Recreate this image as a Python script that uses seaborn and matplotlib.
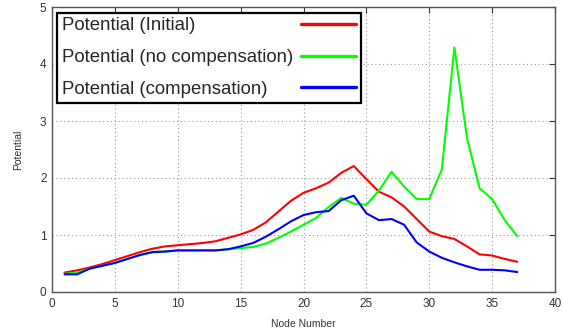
import numpy as np
import pandas as pd
import seaborn as sns
import matplotlib
matplotlib.use("Agg")
import matplotlib.pyplot as plt

nodes = list(range(1, 38))

initial = [0.34, 0.38, 0.43, 0.49, 0.56, 0.63, 0.70, 0.76, 0.80, 0.82,
           0.84, 0.86, 0.89, 0.95, 1.01, 1.09, 1.22, 1.41, 1.60, 1.74,
           1.82, 1.92, 2.09, 2.21, 1.98, 1.76, 1.66, 1.50, 1.28, 1.06,
           0.98, 0.93, 0.80, 0.66, 0.64, 0.58, 0.53]

no_comp = [0.32, 0.34, 0.41, 0.46, 0.51, 0.58, 0.65, 0.70, 0.71, 0.73,
           0.73, 0.73, 0.73, 0.75, 0.77, 0.79, 0.85, 0.95, 1.06, 1.18,
           1.30, 1.49, 1.65, 1.55, 1.53, 1.78, 2.11, 1.85, 1.63, 1.63,
           2.15, 4.29, 2.70, 1.82, 1.63, 1.26, 0.98]

comp = [0.31, 0.31, 0.41, 0.46, 0.51, 0.58, 0.65, 0.70, 0.71, 0.73,
        0.73, 0.73, 0.73, 0.75, 0.80, 0.86, 0.97, 1.10, 1.24, 1.35,
        1.40, 1.42, 1.61, 1.69, 1.38, 1.26, 1.28, 1.18, 0.87, 0.71,
        0.60, 0.52, 0.45, 0.39, 0.39, 0.38, 0.35]

series_names = ["Potential (Initial)", "Potential (no compensation)",
                "Potential (compensation)"]
series_colors = ["#ff0000", "#00ff00", "#0000ff"]

x_ticks = [0, 5, 10, 15, 20, 25, 30, 35, 40]
y_ticks = [0, 1, 2, 3, 4, 5]

df = pd.DataFrame({
    "Node Number": nodes * 3,
    "Potential": initial + no_comp + comp,
    "series": [s for s in series_names for _ in nodes],
})

sns.set_theme(style="white")
plt.rcParams["font.family"] = ["Liberation Sans", "DejaVu Sans"]

W, H = 563, 333
fig = plt.figure(figsize=(W / 100, H / 100), dpi=100)
ax = fig.add_axes([52 / W, 1 - 292 / H, (555 - 52) / W, (292 - 7) / H])

sns.lineplot(data=df, x="Node Number", y="Potential", hue="series",
             hue_order=series_names, palette=series_colors,
             linewidth=1.5, ax=ax, legend=True)

ax.set_xlim(0, 40)
ax.set_ylim(0, 5)
ax.set_xticks(x_ticks)
ax.set_yticks(y_ticks)
ax.grid(True, color="#9a9a9a", linestyle=(0, (1, 2.5)), linewidth=0.8)
ax.tick_params(direction="in", top=True, right=True, length=4,
               width=0.8, color="#333333", labelsize=8.5,
               labelcolor="#333333", pad=4)
for sp in ax.spines.values():
    sp.set_color("#555555")
    sp.set_linewidth(1.0)
ax.set_xlabel("Node Number", fontsize=7.5, color="#333333", labelpad=7)
ax.set_ylabel("Potential", fontsize=7.5, color="#333333", labelpad=12)

# legend: labels on the left, line samples aligned on the right
handles, labels = ax.get_legend_handles_labels()
for h in handles:
    h.set_linewidth(2.4)
fs = 13.4
pad_pts = 0.43 * fs
leg = ax.legend(handles, labels, loc="upper left", markerfirst=False,
                fontsize=fs, handlelength=2.95, frameon=True, fancybox=False,
                edgecolor="black", framealpha=1,
                bbox_to_anchor=(57 / W, 1 - 12.5 / H),
                bbox_transform=fig.transFigure, borderaxespad=0,
                labelspacing=0.79, borderpad=0.26, handletextpad=0.43)
leg.get_frame().set_linewidth(1.6)

renderer = fig.canvas.get_renderer()
texts = leg.get_texts()
widths = [t.get_window_extent(renderer).width * 72 / fig.dpi for t in texts]
wmax = max(widths)
column = leg._legend_handle_box.get_children()[0]
for item, w in zip(column.get_children(), widths):
    item.sep = pad_pts + (wmax - w)

fig.savefig("out.png", dpi=100)
